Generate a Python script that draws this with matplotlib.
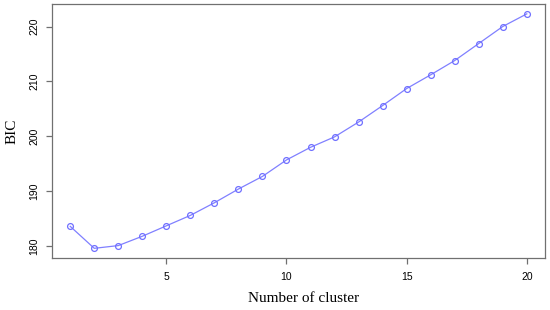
import numpy as np
import matplotlib
matplotlib.use('Agg')
import matplotlib.pyplot as plt

# number of clusters and BIC values
clusters = list(range(1, 21))
bic = [183.6, 179.6, 180.1, 181.8, 183.7, 185.6, 187.9, 190.4, 192.7, 195.7,
       198.0, 199.9, 202.6, 205.6, 208.7, 211.2, 213.8, 216.9, 220.0, 222.3]
x_ticks = [5, 10, 15, 20]
y_ticks = [180, 190, 200, 210, 220]

axis_grey = '#707070'

fig = plt.figure(figsize=(5.5, 3.1), dpi=100)
ax = fig.add_axes([0.0945, 0.1687, 0.8965, 0.8168])

ax.plot(clusters, bic, color='#8080ff', linewidth=0.9,
        marker='o', markersize=4.2, markerfacecolor='none',
        markeredgecolor='#7070ff', markeredgewidth=0.9)

# R style 4% padding on both axes
xr = max(clusters) - min(clusters)
yr = max(bic) - min(bic)
ax.set_xlim(min(clusters) - 0.04 * xr, max(clusters) + 0.04 * xr)
ax.set_ylim(min(bic) - 0.04 * yr, max(bic) + 0.04 * yr)

ax.set_xticks(x_ticks)
ax.set_yticks(y_ticks)
ax.set_xticklabels([str(t) for t in x_ticks], fontfamily='Liberation Sans', fontsize=7.5)
ax.set_yticklabels([str(t) for t in y_ticks], fontfamily='Liberation Sans', fontsize=7.5,
                   rotation=90, va='center')
ax.tick_params(axis='both', length=4, width=0.9, color=axis_grey, pad=5)
ax.tick_params(axis='x', pad=6)

for s in ax.spines.values():
    s.set_color(axis_grey)
    s.set_linewidth(0.9)

ax.set_xlabel('Number of cluster', fontfamily='Liberation Serif', fontsize=11)
ax.xaxis.set_label_coords(0.51, -0.135)
ax.set_ylabel('BIC', fontfamily='Liberation Serif', fontsize=11, labelpad=8)

fig.savefig('out.png', dpi=100)
